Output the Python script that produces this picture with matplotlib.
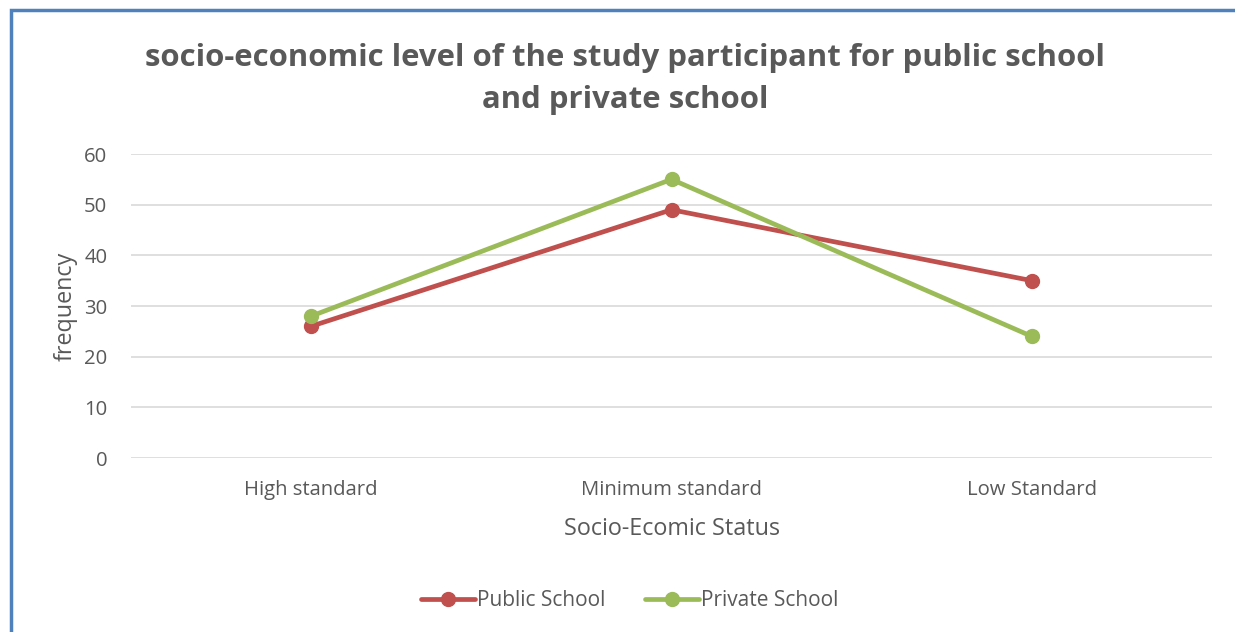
import matplotlib.pyplot as plt
from matplotlib.patches import Rectangle

categories = ['High standard', 'Minimum standard', 'Low Standard']
public_school = [26, 49, 35]
private_school = [28, 55, 24]
y_ticks = [0, 10, 20, 30, 40, 50, 60]

text_color = '#595959'
plt.rcParams['font.family'] = ['Open Sans', 'DejaVu Sans']

fig = plt.figure(figsize=(12.35, 6.32), dpi=100)
ax = fig.add_axes([131 / 1235, 1 - 458 / 632, (1212 - 131) / 1235, (458 - 154) / 632])

x = range(len(categories))
ax.plot(x, public_school, color='#C0504D', lw=3.4, marker='o', ms=10,
        label='Public School', solid_capstyle='round', zorder=3)
ax.plot(x, private_school, color='#9BBB59', lw=3.4, marker='o', ms=10,
        label='Private School', solid_capstyle='round', zorder=3)

ax.set_xlim(-0.5, len(categories) - 0.5)
ax.set_ylim(0, 60)
ax.set_yticks(y_ticks)
ax.set_xticks(list(x))
ax.set_xticklabels(categories)
ax.tick_params(axis='both', length=0, labelsize=14.6, colors=text_color)
ax.tick_params(axis='x', pad=16)
ax.tick_params(axis='y', pad=17)
ax.grid(axis='y', color='#D9D9D9', lw=1.2)
ax.set_axisbelow(True)
for s in ax.spines.values():
    s.set_visible(False)

ax.set_xlabel('Socio-Ecomic Status', fontsize=16.8, color=text_color, labelpad=12)
ax.set_ylabel('frequency', fontsize=16.8, color=text_color, labelpad=5)

fig.text(0.506, 1 - 79 / 632, 'socio-economic level of the study participant for public school\nand private school',
         ha='center', va='center', fontsize=22.4, fontweight='bold', color=text_color, linespacing=1.56)

fig.legend(loc='center', bbox_to_anchor=(0.51, 1 - 601 / 632), ncol=2, frameon=False,
           fontsize=15, labelcolor=text_color, handlelength=2.6, handletextpad=0.1, columnspacing=1.9)

# chart border
fig.patches.append(Rectangle((11 / 1235, -0.05), 1.2, 1 - 10 / 632 + 0.05, transform=fig.transFigure,
                             fill=False, edgecolor='#4F81BD', lw=2.5))

fig.savefig('out.png', dpi=100)
